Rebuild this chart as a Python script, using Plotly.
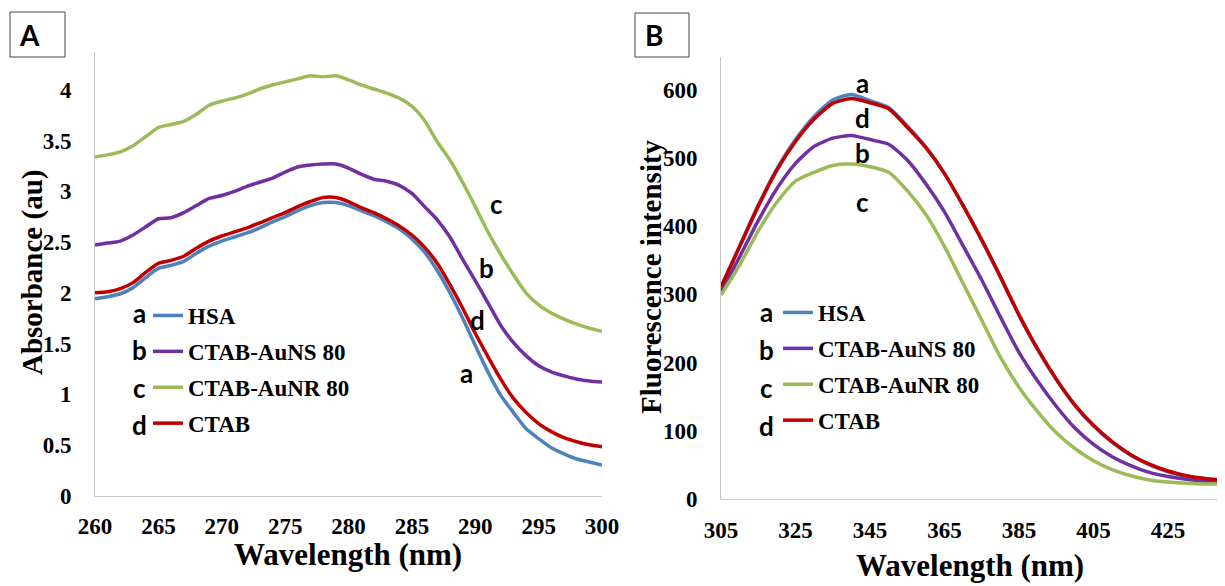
import plotly.graph_objects as go

# page body has an 8px default margin; size the figure so it fills the 1225x586 window
OFF = 8
W, H = 1225 - OFF, 586 - OFF

# ---------------- Panel A: absorbance ----------------
wl_a = list(range(260, 301))
hsa_a = [1.94, 1.96, 1.99, 2.05, 2.15, 2.24, 2.27, 2.31, 2.39, 2.46, 2.51, 2.55, 2.59, 2.64,
         2.70, 2.75, 2.81, 2.86, 2.89, 2.89, 2.86, 2.81, 2.76, 2.70, 2.63, 2.53, 2.40, 2.22,
         2.00, 1.75, 1.48, 1.22, 0.99, 0.82, 0.66, 0.56, 0.47, 0.41, 0.36, 0.33, 0.30]
auns_a = [2.47, 2.49, 2.51, 2.57, 2.65, 2.73, 2.74, 2.79, 2.86, 2.93, 2.96, 3.00, 3.05, 3.09,
          3.13, 3.19, 3.24, 3.26, 3.27, 3.27, 3.23, 3.17, 3.12, 3.10, 3.06, 2.98, 2.85, 2.72,
          2.55, 2.33, 2.12, 1.90, 1.68, 1.51, 1.38, 1.28, 1.22, 1.18, 1.15, 1.13, 1.12]
aunr_a = [3.34, 3.36, 3.39, 3.45, 3.54, 3.63, 3.66, 3.69, 3.76, 3.85, 3.89, 3.92, 3.96, 4.01,
          4.05, 4.08, 4.11, 4.14, 4.13, 4.14, 4.10, 4.05, 4.01, 3.97, 3.92, 3.84, 3.70, 3.49,
          3.31, 3.09, 2.85, 2.60, 2.38, 2.18, 2.00, 1.88, 1.80, 1.74, 1.69, 1.65, 1.62]
ctab_a = [2.00, 2.01, 2.04, 2.10, 2.20, 2.29, 2.32, 2.36, 2.44, 2.51, 2.56, 2.60, 2.64, 2.69,
          2.74, 2.79, 2.85, 2.90, 2.94, 2.94, 2.90, 2.84, 2.79, 2.73, 2.66, 2.57, 2.45, 2.29,
          2.08, 1.85, 1.60, 1.37, 1.15, 0.96, 0.82, 0.71, 0.63, 0.57, 0.53, 0.50, 0.48]

# ---------------- Panel B: fluorescence ----------------
wl_b = list(range(305, 441, 5))
hsa_b = [310, 371, 431, 484, 527, 561, 585, 593, 584, 574, 547, 516, 477, 430, 379, 325,
         269, 219, 175, 137, 107, 83, 64, 50, 40, 33, 29, 27]
auns_b = [304, 355, 408, 455, 492, 517, 529, 533, 527, 520, 497, 462, 421, 371, 321, 267,
          215, 173, 136, 104, 80, 62, 49, 39, 33, 29, 26, 25]
aunr_b = [299, 343, 393, 435, 466, 479, 489, 491, 487, 479, 452, 417, 370, 316, 262, 208,
          164, 128, 97, 74, 56, 43, 34, 28, 25, 23, 22, 22]
ctab_b = [311, 370, 429, 482, 524, 557, 580, 587, 581, 572, 545, 515, 477, 430, 380, 326,
          270, 220, 176, 138, 108, 84, 65, 51, 41, 34, 30, 28]

names = ["HSA", "CTAB-AuNS 80", "CTAB-AuNR 80", "CTAB"]
letters = ["a", "b", "c", "d"]
colors = ["#4f81bd", "#7030a0", "#9bbb59", "#c00000"]

ticks_a_x = [260, 265, 270, 275, 280, 285, 290, 295, 300]
ticks_a_y = [0, 0.5, 1, 1.5, 2, 2.5, 3, 3.5, 4]
ticks_b_x = [305, 325, 345, 365, 385, 405, 425]
ticks_b_y = [0, 100, 200, 300, 400, 500, 600]

# curve letter labels (data coordinates)
lab_a_x = [289.3, 290.9, 291.7, 290.2]
lab_a_y = [1.21, 2.24, 2.88, 1.73]
lab_b_x = [343.1, 343.1, 343.1, 343.1]
lab_b_y = [610, 507, 435, 559]

SERIF = "Liberation Serif"
SANS = "Lato"

fig = go.Figure()
series_a = [hsa_a, auns_a, aunr_a, ctab_a]
series_b = [hsa_b, auns_b, aunr_b, ctab_b]
for i in range(4):
    fig.add_trace(go.Scatter(x=wl_a, y=series_a[i], mode="lines", name=names[i],
                             line=dict(color=colors[i], width=3.5, shape="spline", smoothing=0.6),
                             legend="legend", legendgroup="A" + letters[i],
                             xaxis="x", yaxis="y"))
for i in range(4):
    fig.add_trace(go.Scatter(x=wl_b, y=series_b[i], mode="lines", name=names[i],
                             line=dict(color=colors[i], width=3.5, shape="spline", smoothing=0.6),
                             legend="legend2", legendgroup="B" + letters[i],
                             xaxis="x2", yaxis="y2"))

def px(x):
    # window pixel -> paper fraction
    return (x - OFF) / W

def py(y):
    return 1 - (y - OFF) / H

axis_common = dict(showline=True, linecolor="#c8c8c8", linewidth=1, showgrid=False,
                   zeroline=False, ticks="", fixedrange=True, automargin=False,
                   tickfont=dict(family=SERIF, size=23, color="black", weight="bold"))

legend_common = dict(bgcolor="rgba(0,0,0,0)", borderwidth=0, traceorder="grouped",
                     tracegroupgap=3, xanchor="left", yanchor="top",
                     font=dict(family=SERIF, size=23, color="black", weight="bold"))

fig.update_layout(
    width=W, height=H, autosize=False,
    margin=dict(l=0, r=0, t=0, b=0, pad=0, autoexpand=False),
    paper_bgcolor="white", plot_bgcolor="white",
    xaxis=dict(domain=[px(95), px(602)], range=[260, 300], tickvals=ticks_a_x,
               anchor="y", ticklabelstandoff=10, **axis_common),
    yaxis=dict(domain=[py(495.5), py(52)], range=[0, 4.375], tickvals=ticks_a_y,
               anchor="x", ticklabelstandoff=18, **axis_common),
    xaxis2=dict(domain=[px(721), 1.0], range=[305, 440.3], tickvals=ticks_b_x,
                anchor="y2", ticklabelstandoff=10, **axis_common),
    yaxis2=dict(domain=[py(499), py(57)], range=[0, 648], tickvals=ticks_b_y,
                anchor="x2", ticklabelstandoff=18, **axis_common),
    legend=dict(x=px(148), y=py(294), **legend_common),
    legend2=dict(x=px(778), y=py(291), **legend_common),
    showlegend=True,
)

ann = []
# axis titles
ann.append(dict(text="Wavelength (nm)", x=px(348), y=py(554), xref="paper", yref="paper",
                showarrow=False, xanchor="center", yanchor="middle",
                font=dict(family=SERIF, size=31, color="black", weight="bold")))
ann.append(dict(text="Wavelength (nm)", x=px(970), y=py(565), xref="paper", yref="paper",
                showarrow=False, xanchor="center", yanchor="middle",
                font=dict(family=SERIF, size=31, color="black", weight="bold")))
ann.append(dict(text="Absorbance (au)", x=px(32), y=py(273), xref="paper", yref="paper",
                showarrow=False, textangle=-90, xanchor="center", yanchor="middle",
                font=dict(family=SERIF, size=29, color="black", weight="bold")))
ann.append(dict(text="Fluorescence intensity", x=px(651), y=py(277), xref="paper", yref="paper",
                showarrow=False, textangle=-90, xanchor="center", yanchor="middle",
                font=dict(family=SERIF, size=29, color="black", weight="bold")))
# panel letters
ann.append(dict(text="A", x=px(29), y=py(35), xref="paper", yref="paper", showarrow=False,
                xanchor="center", yanchor="middle",
                font=dict(family=SANS, size=28, color="black", weight="bold")))
ann.append(dict(text="B", x=px(654), y=py(35), xref="paper", yref="paper", showarrow=False,
                xanchor="center", yanchor="middle",
                font=dict(family=SANS, size=28, color="black", weight="bold")))
# curve labels
for i in range(4):
    ann.append(dict(text=letters[i], x=lab_a_x[i], y=lab_a_y[i], xref="x", yref="y",
                    showarrow=False, xanchor="center", yanchor="middle",
                    font=dict(family=SANS, size=26, color="black", weight="bold")))
    ann.append(dict(text=letters[i], x=lab_b_x[i], y=lab_b_y[i], xref="x2", yref="y2",
                    showarrow=False, xanchor="center", yanchor="middle",
                    font=dict(family=SANS, size=26, color="black", weight="bold")))
# legend prefix letters
leg_a_y = [313, 350, 388, 425]
leg_b_y = [312, 350, 388, 426]
for i in range(4):
    ann.append(dict(text=letters[i], x=px(139), y=py(leg_a_y[i]), xref="paper", yref="paper",
                    showarrow=False, xanchor="center", yanchor="middle",
                    font=dict(family=SANS, size=26, color="black", weight="bold")))
    ann.append(dict(text=letters[i], x=px(766), y=py(leg_b_y[i]), xref="paper", yref="paper",
                    showarrow=False, xanchor="center", yanchor="middle",
                    font=dict(family=SANS, size=26, color="black", weight="bold")))
fig.update_layout(annotations=ann)

# panel label boxes
fig.update_layout(shapes=[
    dict(type="rect", xref="paper", yref="paper", x0=px(10), x1=px(65), y0=py(57), y1=py(12),
         line=dict(color="#444444", width=1)),
    dict(type="rect", xref="paper", yref="paper", x0=px(635), x1=px(689), y0=py(57), y1=py(13),
         line=dict(color="#444444", width=1)),
])

fig.write_html("out.html")
